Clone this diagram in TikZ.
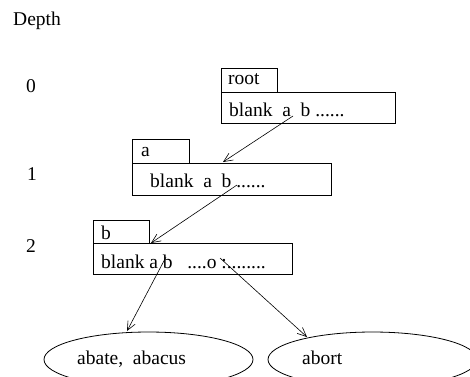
\documentclass[tikz,border=0pt]{standalone}
\usepackage{fontspec}
\setmainfont{Liberation Serif}
\usetikzlibrary{arrows.meta,shapes.geometric}
\begin{document}
\begin{tikzpicture}[x=1pt,y=-1pt,
  lbl/.style={anchor=base west,inner sep=0pt,font=\fontsize{19.5}{22}\selectfont},
  box/.style={draw,line width=0.8pt,anchor=north west,inner sep=0pt,rectangle},
  oval/.style={draw,line width=0.8pt,ellipse,inner sep=0pt,minimum width=209pt,minimum height=55pt},
  arr/.style={line width=0.6pt,-{Straight Barb[length=9pt,width=8pt]}}]
\useasboundingbox (0,0) rectangle (470,376);
% depth labels
\node[lbl] (depth) at (13,25) {Depth};
\node[lbl] (d0) at (26,92) {0};
\node[lbl] (d1) at (27,180) {1};
\node[lbl] (d2) at (26,252) {2};
% root
\node[box,minimum width=56pt,minimum height=24pt] (roottag) at (221,68) {};
\node[box,minimum width=174pt,minimum height=31pt] (rootbox) at (221,92) {};
\node[lbl] (roott) at (228,84) {root};
\node[lbl] (rootb) at (229,116) {blank\ \ a\ \ b ......};
% a
\node[box,minimum width=57pt,minimum height=24pt] (atag) at (132,139) {};
\node[box,minimum width=199pt,minimum height=32pt] (abox) at (132,163) {};
\node[lbl] (at) at (141,156) {a};
\node[lbl] (ab) at (150,187) {blank\ \ a\ \ b ......};
% b
\node[box,minimum width=56pt,minimum height=23pt] (btag) at (93,220) {};
\node[box,minimum width=199pt,minimum height=31pt] (bbox) at (93,243) {};
\node[lbl] (bt) at (101,239) {b};
\node[lbl] (bb) at (101,268) {blank a\ b\ \ \ ....o :........};
% ellipses
\node[oval] (e1) at (148.5,359.5) {};
\node[oval] (e2) at (372.5,359.5) {};
\node[lbl] (e1t) at (77,364) {abate,\ \ abacus};
\node[lbl] (e2t) at (302,364) {abort};
% connector ends
\coordinate (s1) at (293,116);
\coordinate (t1) at (223,162);
\coordinate (s2) at (237,185);
\coordinate (t2) at (151,243);
\coordinate (s3) at (166,257);
\coordinate (t3) at (127,331);
\coordinate (s4) at (220,258);
\coordinate (t4) at (307,337);
\draw[arr] (s1) -- (t1);
\draw[arr] (s2) -- (t2);
\draw[arr] (s3) -- (t3);
\draw[arr] (s4) -- (t4);
\end{tikzpicture}
\end{document}
